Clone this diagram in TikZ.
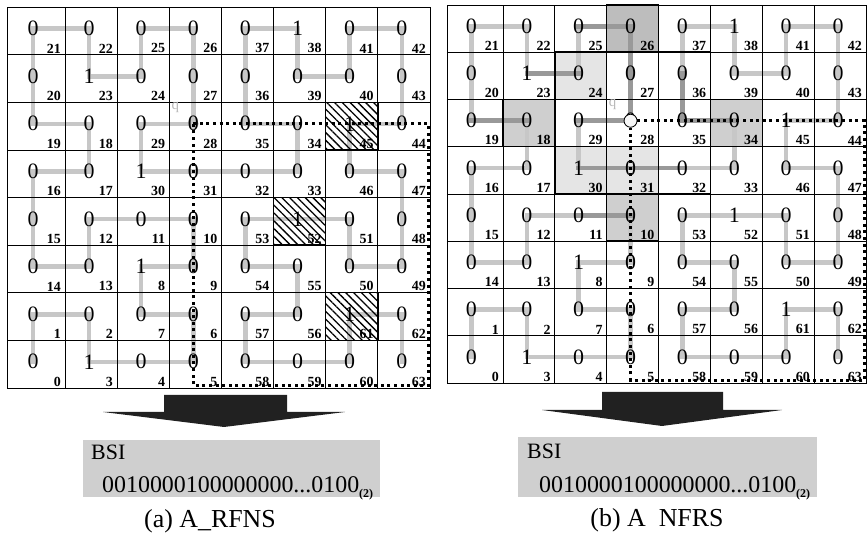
\documentclass[tikz,border=0pt]{standalone}
\usepackage{fontspec}
\setmainfont{Liberation Serif}
\usepackage{tikz}
\usetikzlibrary{backgrounds,patterns.meta}
\definecolor{curvegrey}{gray}{0.78}
\definecolor{curvedark}{gray}{0.60}
\definecolor{cellshadedark}{gray}{0.74}
\definecolor{cellshade}{gray}{0.81}
\definecolor{cellshadelight}{gray}{0.90}
\definecolor{bsigrey}{gray}{0.81}
\definecolor{arrowdark}{gray}{0.13}
\newcommand\cellrows{%
  0/{21/0,22/0,25/0,26/0,37/0,38/1,41/0,42/0},%
  1/{20/0,23/1,24/0,27/0,36/0,39/0,40/0,43/0},%
  2/{19/0,18/0,29/0,28/0,35/0,34/0,45/1,44/0},%
  3/{16/0,17/0,30/1,31/0,32/0,33/0,46/0,47/0},%
  4/{15/0,12/0,11/0,10/0,53/0,52/1,51/0,48/0},%
  5/{14/0,13/0,8/1,9/0,54/0,55/0,50/0,49/0},%
  6/{1/0,2/0,7/0,6/0,57/0,56/0,61/1,62/0},%
  7/{0/0,3/1,4/0,5/0,58/0,59/0,60/0,63/0}}
\newcommand\radixsub{\raisebox{-5bp}{\fontsize{12}{12}\selectfont\bfseries(2)}}
\tikzset{
  grid line/.style    = {black, line width=0.8bp},
  bit/.style          = {inner sep=0pt, font=\fontsize{22}{22}\selectfont},
  cell index/.style   = {anchor=south east, inner xsep=4bp, inner ysep=1.5bp,
                         font=\fontsize{14}{14}\selectfont\bfseries},
  hcurve/.style       = {curvegrey, line width=4.6bp, line cap=rect},
  hcurve dark/.style  = {curvedark, line width=4.6bp, line cap=rect},
  hatched cell/.style = {draw=black, line width=1.4bp,
                         pattern={Lines[angle=-45,distance=5.5bp,line width=1.3bp]}},
  near cell/.style    = {draw=black, line width=1.5bp},
  query/.style        = {black, line width=3.2bp, dash pattern=on 3bp off 3.6bp},
  q blob/.style       = {circle, fill=gray!45, minimum size=11bp, inner sep=0pt},
  q circle/.style     = {circle, draw=black, fill=gray!6, line width=0.8bp,
                         minimum size=13bp, inner sep=0pt},
  q label/.style      = {text=gray!55, inner sep=0pt, font=\fontsize{15}{15}\selectfont},
  block arrow/.style  = {fill=arrowdark},
  bsi box/.style      = {fill=bsigrey},
  bsi label/.style    = {anchor=base west, inner sep=0pt, font=\fontsize{22}{22}\selectfont},
  bsi bits/.style     = {anchor=base west, inner sep=0pt, font=\fontsize{24}{24}\selectfont},
  caption/.style      = {anchor=base, inner sep=0pt, font=\fontsize{26}{26}\selectfont},
}

\begin{document}
\begin{tikzpicture}[x=1bp,y=1bp]
  \useasboundingbox (0,0) rectangle (867,538);

  % (a) A_RFNS grid
  \begin{scope}[shift={(12.86,150)}, x=52.14bp, y=47.6bp]
    \foreach \rw/\row in \cellrows {
      \foreach \n/\bit [count=\col from 0] in \row {
        \pgfmathsetmacro\dx{\col==0 ? 0.39 : 0.46}
        \coordinate (L\n) at (\col+\dx,7-\rw+.55);
        \node[bit] (Lb\n) at (L\n) {\bit};
        \node[cell index] (Li\n) at (\col+1,7-\rw) {\n};
      }
    }
    \draw[grid line] (-0.11,0) rectangle (8,8);
    \foreach \i in {1,...,7} {
      \draw[grid line] (\i,0) -- (\i,8);
      \draw[grid line] (-0.11,\i) -- (8,\i);
    }
    \begin{scope}[on background layer]
      \foreach \n [remember=\n as \p (initially 0)] in {1,...,63}
        \draw[hcurve] (L\p) -- (L\n);
      \node[q blob] (Lqb) at (L28) {};
    \end{scope}
    \foreach \x/\y in {6/5,5/3,6/1}
      \draw[hatched cell] (\x,\y) rectangle +(1,1);
    \coordinate (Lse) at (7.97,0.06);
    \draw[query] (L28) -- (L28 -| Lse) -- (Lse) -- (Lse -| L28) -- cycle;
    \node[q label] (Lq) at ([xshift=-18bp,yshift=16bp]L28) {q};
  \end{scope}

  % (b) A NFRS grid
  \begin{scope}[shift={(451.1,155)}, x=51.86bp, y=47.25bp]
    \foreach \rw/\row in \cellrows {
      \foreach \n/\bit [count=\col from 0] in \row {
        \pgfmathsetmacro\dx{\col==0 ? 0.39 : 0.46}
        \coordinate (R\n) at (\col+\dx,7-\rw+.55);
        \node[bit] (Rb\n) at (R\n) {\bit};
        \node[cell index] (Ri\n) at (\col+1,7-\rw) {\n};
      }
    }
    \draw[grid line] (-0.08,0) rectangle (8,8);
    \foreach \i in {1,...,7} {
      \draw[grid line] (\i,0) -- (\i,8);
      \draw[grid line] (-0.08,\i) -- (8,\i);
    }
    \begin{scope}[on background layer]
      \fill[cellshadedark] (3,7) rectangle +(1,1);
      \foreach \x/\y in {1/5,5/5,3/3}
        \fill[cellshade] (\x,\y) rectangle +(1,1);
      \foreach \x/\y in {2/6,2/4,3/4}
        \fill[cellshadelight] (\x,\y) rectangle +(1,1);
      \foreach \n [remember=\n as \p (initially 0)] in {1,...,63}
        \draw[hcurve] (R\p) -- (R\n);
      \foreach \a/\b in {18/19,23/24,25/26,26/27,27/28,28/29,
                         30/31,31/32,34/35,35/36,10/11}
        \draw[hcurve dark] (R\a) -- (R\b);
    \end{scope}
    \foreach \x/\y in {2/6,3/6,4/6,2/5,3/5,4/5,2/4,3/4,4/4,3/7,1/5,5/5,3/3}
      \draw[near cell] (\x,\y) rectangle +(1,1);
    \node[q circle] (Rq) at (R28) {};
    \coordinate (Rse) at (7.97,0.06);
    \draw[query] (Rq.east) -- (Rq.east -| Rse) -- (Rse) -- (Rse -| Rq.south) -- (Rq.south);
    \node[q label] (Rql) at ([xshift=-18bp,yshift=16bp]R28) {q};
  \end{scope}

  % arrows down to the bit strings
  \fill[block arrow] (164,143) -- (287,143) -- (287,126) -- (345,126)
    -- (224,111) -- (103,126) -- (164,126) -- cycle;
  \fill[block arrow] (602,146) -- (723,146) -- (723,128) -- (782,128)
    -- (662,112) -- (542,128) -- (602,128) -- cycle;

  % BSI boxes
  \fill[bsi box] (83,41) rectangle (380,98);
  \fill[bsi box] (518,41) rectangle (817,101);
  \node[bsi label] (Lbsi) at (91,78) {BSI};
  \node[bsi bits] (Lstr) at (102,45) {0010000100000000...0100\radixsub};
  \node[bsi label] (Rbsi) at (527,79) {BSI};
  \node[bsi bits] (Rstr) at (539,45) {0010000100000000...0100\radixsub};

  \node[caption] (Lcap) at (210,10) {(a) A\_RFNS};
  \node[caption] (Rcap) at (657,11) {(b) A~~NFRS};
\end{tikzpicture}
\end{document}
